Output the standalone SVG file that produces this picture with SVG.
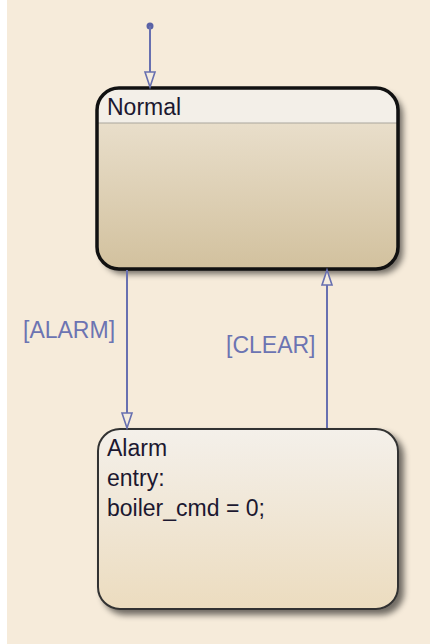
<svg xmlns="http://www.w3.org/2000/svg" width="430" height="644" viewBox="0 0 430 644">
<style>
.conn{stroke:#6870b0;stroke-width:2;fill:none}
.lbl{font-family:"Liberation Sans",Arial,sans-serif;font-size:23px;fill:#6c74b2}
.st{font-family:"Liberation Sans",Arial,sans-serif;font-size:23px;fill:#1c1830}
</style>
<defs>
<linearGradient id="gN" x1="0" y1="0" x2="0" y2="1">
<stop offset="0" stop-color="#eee5d5"/>
<stop offset="1" stop-color="#d2c19e"/>
</linearGradient>
<linearGradient id="gA" x1="0" y1="0" x2="0" y2="1">
<stop offset="0" stop-color="#f4f0ea"/>
<stop offset="1" stop-color="#ecdcbf"/>
</linearGradient>
<filter id="sh" x="-10%" y="-10%" width="130%" height="130%">
<feGaussianBlur in="SourceAlpha" stdDeviation="3"/>
<feOffset dx="5" dy="5" result="b"/>
<feComponentTransfer><feFuncA type="linear" slope="0.55"/></feComponentTransfer>
<feMerge><feMergeNode/><feMergeNode in="SourceGraphic"/></feMerge>
</filter>
<clipPath id="cN"><rect x="97" y="88" width="301" height="181" rx="22"/></clipPath>
<marker id="ah" markerUnits="userSpaceOnUse" markerWidth="14" markerHeight="20" refX="6" refY="16" orient="auto-start-reverse" viewBox="0 0 12 18">
<path d="M1,1 L11,1 L6,16 Z" fill="#f4ecdf" stroke="#6870b0" stroke-width="1.6" transform="rotate(0)"/>
</marker>
</defs>
<rect x="0" y="0" width="430" height="644" fill="#f6ebda"/>
<rect x="0" y="0" width="7" height="644" fill="#ffffff"/>
<g id="Normal">
<rect x="97" y="88" width="301" height="181" rx="22" fill="url(#gN)" filter="url(#sh)"/>
<rect x="97" y="88" width="301" height="35" fill="#f3efe8" clip-path="url(#cN)"/>
<line x1="97" y1="123" x2="398" y2="123" stroke="#aaa59c" stroke-width="1.2"/>
<rect x="97" y="88" width="301" height="181" rx="22" fill="none" stroke="#111" stroke-width="3.5"/>
<text class="st" x="107" y="115">Normal</text>
</g>
<g id="Alarm">
<rect x="98" y="429" width="300" height="180" rx="22" fill="url(#gA)" stroke="#333" stroke-width="2" filter="url(#sh)"/>
<text class="st" x="107" y="456">Alarm</text>
<text class="st" x="107" y="486">entry:</text>
<text class="st" x="107" y="516">boiler_cmd = 0;</text>
</g>
<g id="connectors">
<circle cx="150" cy="26" r="3.5" fill="#5a62a6"/>
<path class="conn" d="M150,26 L150,72" />
<path d="M145,72 L155,72 L150,87 Z" fill="#f4ecdf" stroke="#6870b0" stroke-width="1.6"/>
<path class="conn" d="M127,270 L127,413"/>
<path d="M122,413 L132,413 L127,428 Z" fill="#f4ecdf" stroke="#6870b0" stroke-width="1.6"/>
<path class="conn" d="M327,428 L327,285"/>
<path d="M322,285 L332,285 L327,270 Z" fill="#f4ecdf" stroke="#6870b0" stroke-width="1.6"/>
<text class="lbl" x="23" y="338">[ALARM]</text>
<text class="lbl" x="226" y="353">[CLEAR]</text>
</g>
</svg>
